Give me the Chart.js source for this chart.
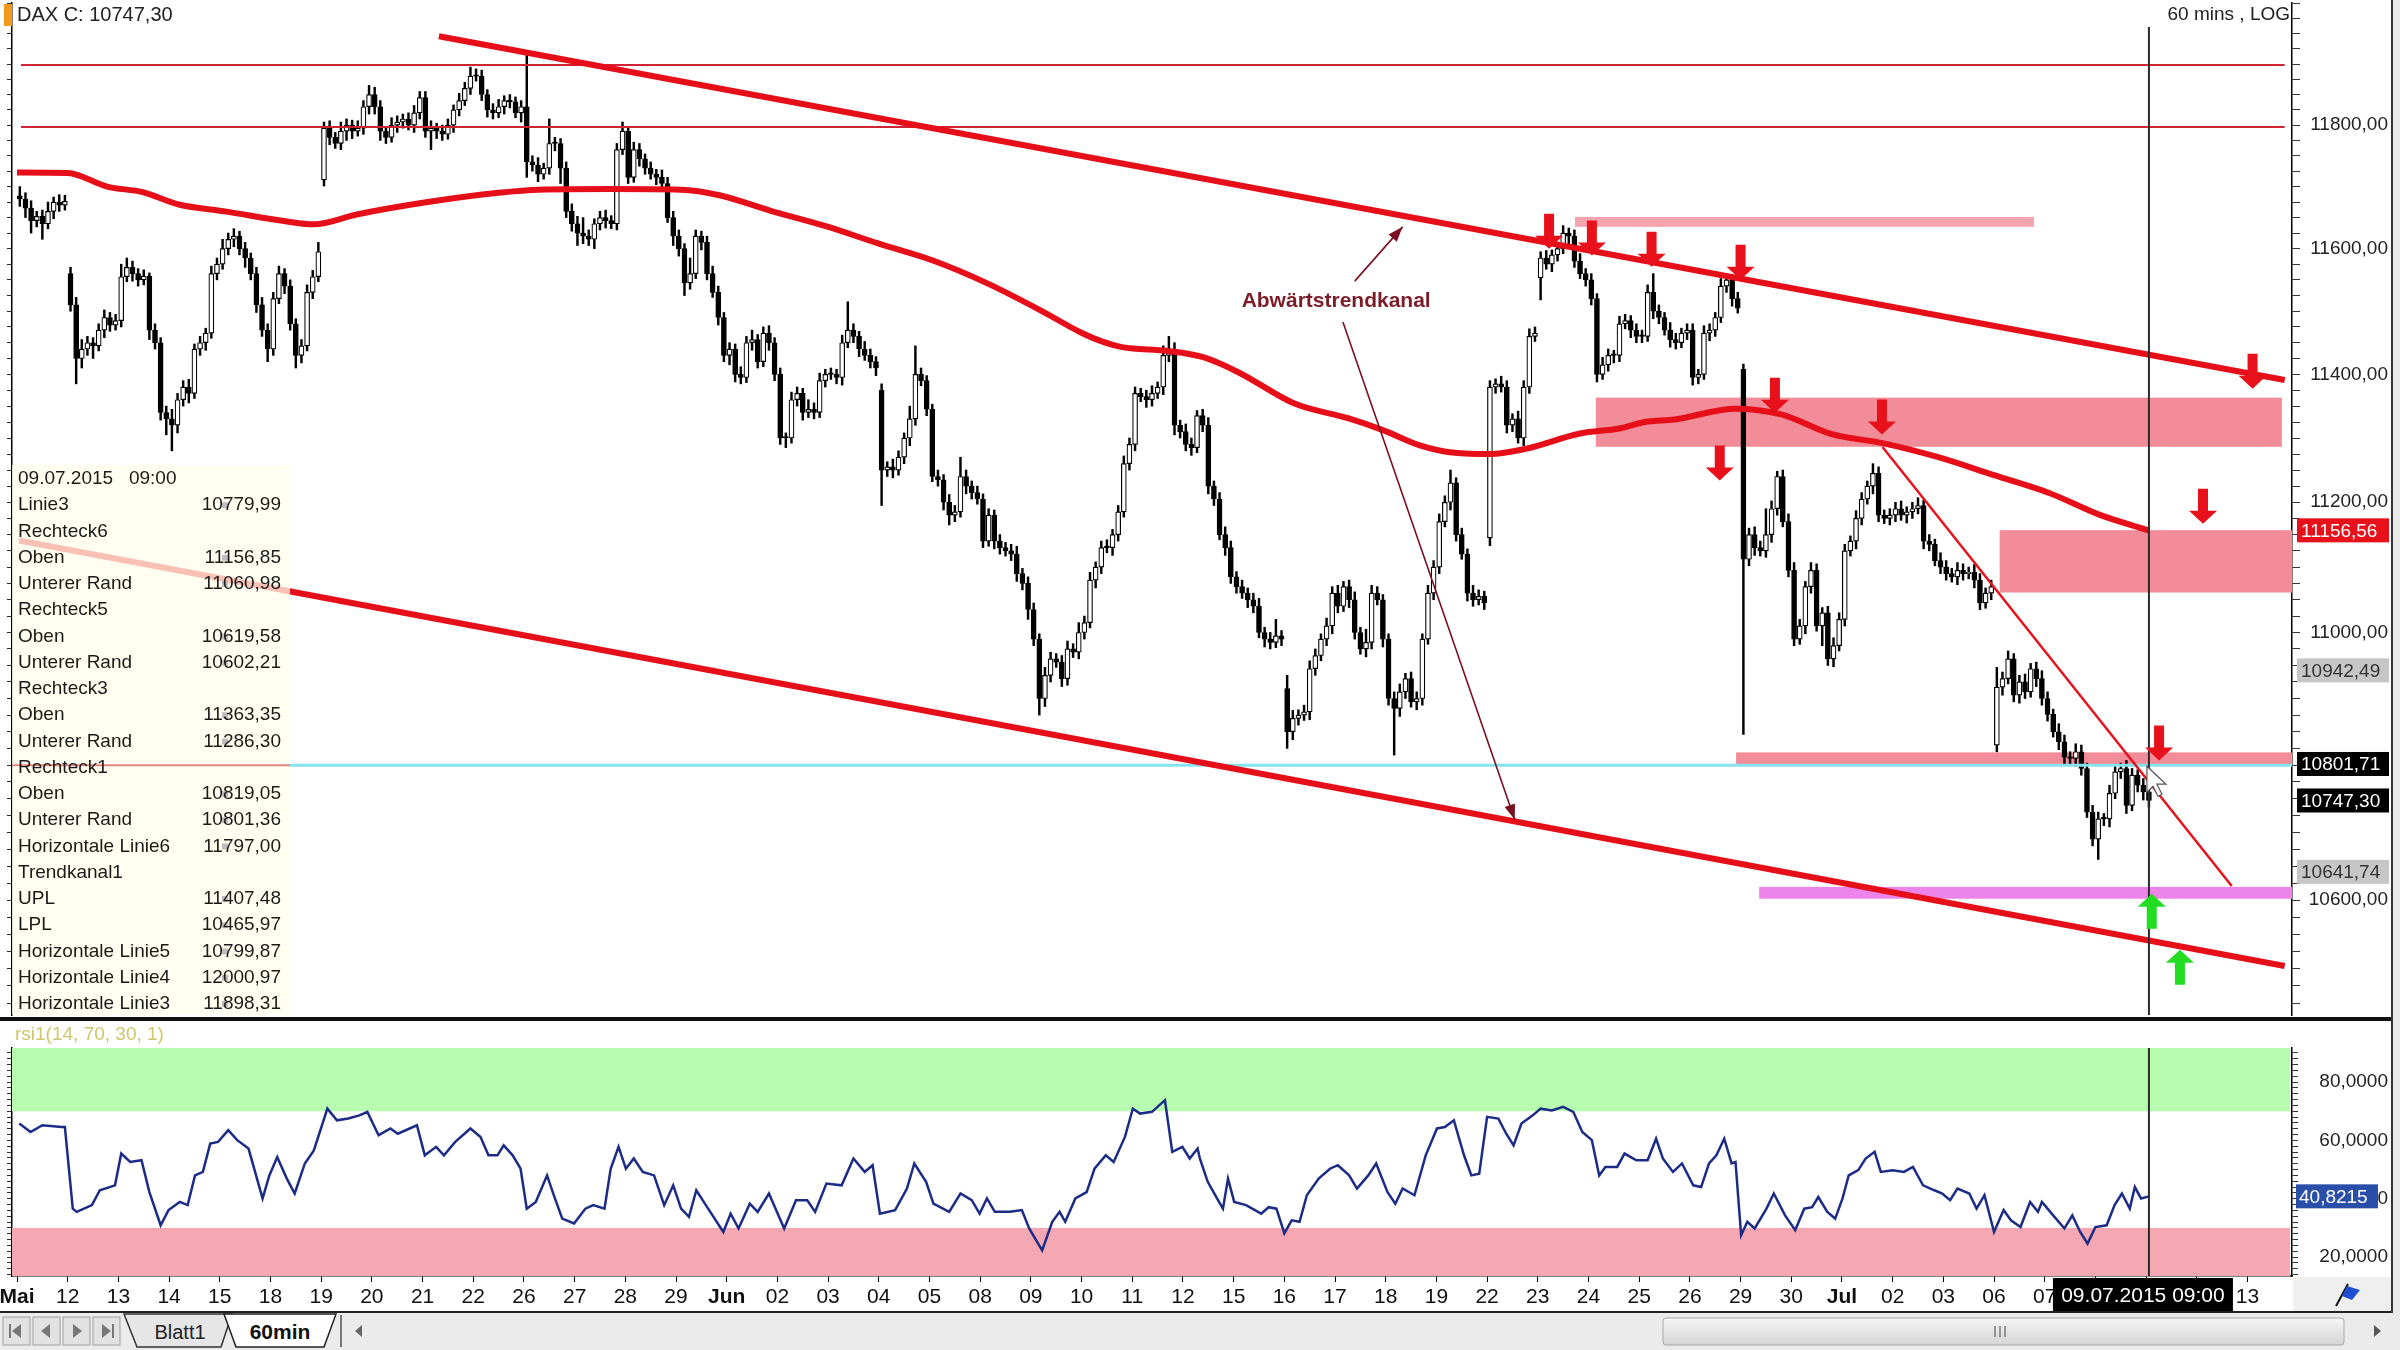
<!DOCTYPE html>
<html lang="de">
<head>
<meta charset="utf-8">
<title>DAX 60 mins</title>
<script src="https://cdn.jsdelivr.net/npm/chart.js@4.4.1/dist/chart.umd.min.js"></script>
<style>
  html, body { margin: 0; padding: 0; }
  body { width: 2400px; height: 1350px; background: #fff; position: relative; overflow: hidden; font-family: "Liberation Sans", Arial, sans-serif; }
  #priceChart { position: absolute; left: 0; top: 0; }
  #rsiChart { position: absolute; left: 0; top: 1021px; }
  .sep { position: absolute; left: 0; top: 1017px; width: 2392px; height: 4px; background: #111; }
  .axisBottom { position: absolute; left: 0; top: 1311px; width: 2392px; height: 2px; background: #222; }
  .rightEdge { position: absolute; left: 2391px; top: 0; width: 2px; height: 1313px; background: #333; }
  .rightPad { position: absolute; left: 2393px; top: 0; width: 7px; height: 1350px; background: #e8e8e8; }
  #tabbar { position: absolute; left: 0; top: 1313px; }
</style>
</head>
<body>
<canvas id="priceChart" width="2400" height="1017"></canvas>
<div class="sep"></div>
<canvas id="rsiChart" width="2400" height="292"></canvas>
<div class="axisBottom"></div>
<div class="rightEdge"></div>
<div class="rightPad"></div>
<svg id="tabbar" width="2400" height="37" xmlns="http://www.w3.org/2000/svg" font-family="Liberation Sans, Arial, sans-serif">
  <defs><linearGradient id="thumb" x1="0" y1="0" x2="0" y2="1"><stop offset="0" stop-color="#f6f6f6"/><stop offset="1" stop-color="#d4d4d4"/></linearGradient></defs>
  <rect width="2400" height="37" fill="#ebebeb"/>
  <g stroke="#a0a0a0" fill="#e2e2e2">
    <rect x="3" y="4" width="27" height="28"/><rect x="33" y="4" width="27" height="28"/>
    <rect x="63" y="4" width="27" height="28"/><rect x="93" y="4" width="27" height="28"/>
  </g>
  <g fill="#777">
    <rect x="9" y="11" width="2" height="14"/><polygon points="21,11 12,18 21,25"/>
    <polygon points="50,11 41,18 50,25"/>
    <polygon points="73,11 82,18 73,25"/>
    <polygon points="102,11 111,18 102,25"/><rect x="112" y="11" width="2" height="14"/>
  </g>
  <polygon points="124,1 137,34 221,34 232,1" fill="#e6e6e6" stroke="#333" stroke-width="1.5"/>
  <text x="180" y="26" font-size="20" text-anchor="middle" fill="#222">Blatt1</text>
  <polygon points="224,1 236,34 324,34 336,1" fill="#fff" stroke="#222" stroke-width="1.5"/>
  <text x="280" y="26" font-size="21" font-weight="bold" text-anchor="middle" fill="#111">60min</text>
  <line x1="341" y1="2" x2="341" y2="34" stroke="#777" stroke-width="2"/>
  <polygon points="362,12 355,18 362,24" fill="#666"/>
  <rect x="1663" y="5" width="681" height="27" rx="3" fill="url(#thumb)" stroke="#a8a8a8"/>
  <g stroke="#777" stroke-width="1.5"><line x1="1995" y1="13" x2="1995" y2="24"/><line x1="2000" y1="13" x2="2000" y2="24"/><line x1="2005" y1="13" x2="2005" y2="24"/></g>
  <polygon points="2374,12 2381,18 2374,24" fill="#555"/>
</svg>
<script>
// trading days on the time axis (one tick per day, 9 hourly bars per day)
const dayLabels = ['Mai','12','13','14','15','18','19','20','21','22','26','27','28','29',
  'Jun','02','03','04','05','08','09','10','11','12','15','16','17','18','19','22','23','24','25','26','29','30',
  'Jul','02','03','06','07','08','09','10','13'];
const monthLabels = ['Mai', 'Jun', 'Jul'];
const barsPerDay = 9;

// hourly closes, one row per trading day
const closes = [
  11680,11665,11645,11652,11640,11660,11675,11670,11676,
  11510,11425,11440,11450,11445,11470,11490,11478,11485,
  11555,11570,11560,11550,11556,11470,11450,11340,11330,
  11320,11360,11380,11370,11440,11450,11465,11560,11575,
  11600,11615,11620,11600,11585,11560,11510,11470,11440,
  11520,11560,11540,11480,11430,11445,11530,11555,11595,
  11795,11780,11770,11790,11800,11790,11795,11830,11850,
  11830,11790,11780,11800,11805,11810,11800,11820,11845,
  11790,11795,11790,11785,11800,11825,11840,11860,11880,
  11880,11850,11825,11820,11830,11840,11838,11820,11830,
  11740,11735,11720,11730,11770,11770,11730,11660,11640,
  11625,11620,11615,11640,11650,11645,11640,11760,11790,
  11715,11760,11745,11730,11720,11715,11705,11650,11620,
  11600,11545,11560,11620,11610,11560,11530,11490,11430,
  11440,11400,11395,11450,11455,11420,11465,11450,11400,
  11300,11300,11360,11370,11340,11345,11340,11390,11400,
  11400,11395,11450,11470,11460,11440,11430,11420,11410,
  11250,11255,11250,11270,11300,11330,11400,11390,11345,
  11240,11235,11200,11180,11185,11240,11225,11215,11205,
  11140,11180,11140,11130,11125,11120,11090,11075,11035,
  10990,10900,10935,10960,10955,10930,10975,10970,11000,
  11015,11080,11100,11130,11130,11150,11185,11260,11290,
  11370,11365,11360,11370,11380,11430,11440,11320,11310,
  11290,11285,11335,11320,11225,11205,11150,11130,11085,
  11070,11060,11050,11040,11000,10990,10985,10995,10990,
  10850,10870,10875,10880,10945,10965,10990,11010,11060,
  11040,11070,11050,11000,10975,10985,11060,11050,10990,
  10900,10885,10910,10930,10895,10900,10990,11060,11100,
  11170,11200,11230,11150,11120,11060,11050,11055,11045,
  11380,11385,11380,11320,11330,11300,11380,11460,11465,
  11585,11575,11590,11600,11625,11620,11580,11560,11550,
  11520,11400,11415,11430,11430,11480,11485,11470,11460,
  11460,11530,11500,11490,11470,11455,11450,11465,11470,
  11395,11400,11465,11470,11490,11540,11550,11520,11505,
  11112,11150,11130,11125,11150,11190,11240,11170,11095,
  10990,11010,11070,11095,11010,11030,10960,10980,11020,
  11125,11140,11175,11205,11225,11245,11180,11175,11180,
  11190,11180,11185,11190,11195,11140,11135,11110,11100,
  11090,11085,11095,11090,11092,11080,11045,11060,11070,
  10917,10930,10960,10905,10925,10910,10945,10930,10900,
  10876,10850,10835,10812,10810,10820,10795,10730,10690,
  10720,10720,10758,10790,10795,10740,10785,10770,10760,
  10747.30
];
// wick length above / below the body, points
const wickUp = [
  15,10,12,8,10,15,8,12,10,  10,12,15,10,8,10,12,8,10,  20,15,10,8,10,5,10,8,10,
  15,10,10,12,8,10,8,12,10,  15,10,12,8,10,8,10,12,10,  10,12,8,10,8,10,12,10,15,
  10,12,8,15,10,8,12,10,15,  12,10,8,12,10,8,10,12,10,  10,12,8,10,10,8,12,10,15,
  12,10,8,10,12,8,10,8,10,   90,10,12,8,40,10,8,10,12,  12,25,10,8,10,12,8,10,15,
  8,12,10,8,10,8,12,10,10,   10,8,25,10,8,10,12,10,8,   10,8,12,10,15,8,10,12,8,
  10,8,12,10,8,15,10,12,8,   10,8,12,45,10,8,12,10,8,   10,8,12,10,8,20,45,10,8,
  8,10,8,12,10,30,10,8,10,   8,10,8,10,8,10,12,8,10,    10,8,12,10,8,10,12,8,15,
  10,12,8,10,12,8,10,12,10,  10,8,10,12,8,15,20,10,8,   12,10,8,10,12,8,10,12,10,
  8,10,8,10,12,8,10,25,8,    20,12,8,10,12,10,8,12,10,  12,8,10,12,8,20,12,10,8,
  8,10,12,8,10,10,8,12,10,   12,10,20,8,10,8,12,10,8,   10,8,12,10,8,12,10,12,10,
  10,12,8,10,12,8,10,12,8,   10,8,12,10,8,12,10,8,10,   10,12,30,10,8,12,10,8,10,
  10,8,12,10,8,12,10,8,10,   8,10,12,10,40,12,8,10,12,  12,10,8,12,10,8,10,12,10,
  10,8,12,10,8,15,10,8,10,   10,12,8,10,12,8,10,8,12,   10,8,12,10,8,12,10,8,10,
  30,10,12,8,10,12,8,10,12,  10,8,12,10,8,12,10,8,10,   10,8,12,10,8,12,10,8,10,
  8
];
const wickDn = [
  12,15,20,10,25,8,12,10,8,  10,40,15,10,20,8,12,10,8,  10,8,12,10,8,15,10,12,25,
  40,12,10,15,8,10,12,8,10,  8,10,12,10,15,10,12,10,20, 10,8,12,10,20,12,8,10,8,
  10,12,8,10,15,12,8,10,12,  12,15,10,8,12,10,8,12,10,  10,30,12,10,8,12,10,8,10,
  8,10,12,10,8,12,10,8,15,   25,10,12,8,10,12,25,10,12, 20,12,10,15,10,12,8,10,8,
  10,8,12,10,8,12,10,8,15,   12,20,10,8,12,10,8,12,10,  15,12,10,8,12,10,8,12,10,
  10,15,8,10,12,8,10,8,10,   8,10,12,8,10,12,8,10,12,   55,10,12,8,10,12,10,8,10,
  8,10,12,15,10,8,12,10,8,   10,8,12,10,8,10,12,10,15,  10,25,12,10,8,12,10,8,10,
  10,8,12,10,8,12,10,8,10,   10,8,12,10,8,12,10,15,10,  10,12,8,10,12,10,8,12,10,
  10,8,12,10,8,12,10,8,10,   25,12,10,8,12,10,8,10,12,  10,8,12,10,8,12,10,8,12,
  10,70,12,10,8,12,10,8,10,  10,8,12,10,8,12,10,8,10,   12,10,8,12,10,8,12,10,8,
  35,8,12,10,8,12,10,8,10,   10,12,8,10,12,10,8,12,10,  10,8,12,10,8,12,10,8,10,
  12,10,8,12,10,8,10,12,8,   266,10,12,8,10,12,10,8,10, 10,8,12,10,8,30,10,12,8,
  10,8,12,10,8,12,10,8,10,   10,8,12,10,8,12,10,8,10,   10,8,12,10,8,12,10,8,10,
  10,12,8,10,12,10,8,12,10,  10,8,12,10,8,12,10,8,10,   30,10,12,8,10,12,8,10,12,
  10
];
// opening gaps: [bar index, open]
const gapOpens = [[9, 11560], [54, 11711], [153, 11375], [225, 10915], [261, 11145], [270, 11553], [306, 11408], [351, 10830]];
const firstOpen = 11685;

// moving average (bar index, value)
const maX = [-0.5,8.5,15.5,21.8,28.2,36.4,47.2,52.2,59.8,72.4,85.0,92.2,104.8,117.4,124.2,133.6,143.1,152.5,162.1,171.4,
  181.3,188.2,192.1,195.7,203.8,210.1,216.4,226.3,235.8,242.1,248.4,254.7,261.1,267.3,277.0,284.0,288.5,293.8,304.6,312.7,
  321.7,330.7,340.6,350.5,360.4,369.4,378.0];
const maVal = [11723,11722,11700,11691,11671,11660,11644,11639,11655,11675,11690,11695,11696,11695,11686,11660,11636,11608,11581,11546,
  11501,11467,11452,11443,11437,11427,11403,11354,11331,11312,11289,11277,11275,11283,11307,11315,11325,11329,11346,11337,
  11306,11292,11270,11242,11214,11180,11156.56];

// RSI(14) (bar index, value)
const rsiX = [-0.1,1.9,4.0,7.4,8.0,9.4,10.1,12.8,14.2,16.9,18.0,19.6,21.6,23.0,25.0,26.4,28.4,29.8,31.1,32.5,
  33.8,35.2,37.0,38.6,40.6,43.1,44.3,45.7,47.4,48.8,50.6,52.2,54.6,56.3,58.3,60.3,61.7,63.7,65.8,67.1,
  70.5,71.9,73.9,75.3,77.3,80.0,81.8,83.2,84.8,85.9,87.5,88.9,90.0,91.6,93.6,95.0,96.3,98.4,100.4,101.8,
  103.8,104.9,106.3,107.6,109.0,110.6,112.6,114.4,116.0,117.4,118.8,120.1,122.2,124.9,126.2,127.6,129.6,131.0,133.0,135.7,
  137.8,139.8,141.2,143.2,145.9,148.0,150.0,151.4,152.7,155.4,157.5,158.8,160.9,162.2,165.0,167.0,169.0,170.4,171.7,173.1,
  175.8,177.9,179.2,181.5,183.3,184.6,185.6,187.4,189.4,190.8,192.8,194.2,196.2,197.6,198.9,201.0,203.3,204.6,206.4,207.7,
  209.1,209.5,210.9,212.9,213.6,214.5,215.6,217.7,220.4,221.7,223.1,224.5,225.8,227.2,228.5,230.6,232.6,234.0,236.0,237.4,
  239.4,240.8,242.8,244.2,245.5,247.6,249.6,251.6,253.0,254.6,256.4,257.7,259.1,260.5,262.5,263.9,265.2,266.6,268.6,270.0,
  272.0,274.0,275.8,277.4,279.1,280.4,281.5,283.6,284.9,287.0,289.0,290.5,291.7,293.5,295.1,297.1,298.5,299.9,301.2,302.6,
  303.9,304.6,305.6,306.7,308.0,310.1,311.4,313.4,315.2,316.8,318.2,319.3,320.9,322.3,323.6,324.7,326.4,327.7,329.3,330.4,
  332.5,334.5,336.1,337.9,339.9,341.3,342.7,344.0,346.1,347.4,348.8,350.5,352.2,353.5,355.2,356.9,358.3,359.0,361.0,363.0,
  364.4,365.8,367.1,368.5,370.5,371.9,373.2,374.6,375.5,376.6,378.0];
const rsiVal = [65.8,62.9,65.2,64.6,64.6,36.6,35.5,37.8,42.9,44.6,55.5,52.6,53.2,42.3,30.9,36.1,38.9,37.8,48.0,49.2,
  58.9,59.5,63.5,60.1,57.2,40.1,48.0,54.3,46.9,41.8,52.1,56.6,70.9,66.9,67.5,68.6,69.8,61.8,64.1,62.3,
  65.2,54.9,57.8,54.9,59.5,64.1,61.2,54.9,54.9,58.3,54.9,50.3,36.6,38.9,48.0,40.1,33.2,31.5,36.6,37.8,
  36.6,50.3,57.8,50.3,53.8,49.2,48.0,37.8,44.6,36.6,33.8,42.9,36.6,28.6,34.9,29.8,38.3,35.5,41.8,29.8,
  39.5,39.5,35.5,45.2,44.6,53.8,49.2,51.5,34.9,36.1,43.5,52.1,45.8,38.3,35.5,41.8,39.5,34.9,40.1,35.5,
  35.5,36.1,29.8,22.3,32.1,35.5,32.1,40.1,42.3,50.3,54.9,52.6,61.2,70.9,69.2,69.8,73.8,56.1,57.8,53.8,
  57.2,53.8,45.8,38.9,36.6,46.9,38.9,37.8,34.9,37.1,36.6,28.1,32.6,32.1,41.2,46.9,50.3,51.5,48.0,43.5,
  48.0,52.1,42.3,38.3,43.5,41.2,54.9,64.1,64.6,66.9,54.9,48.0,48.6,68.1,67.5,62.3,58.3,65.8,68.6,70.9,
  70.3,71.5,69.8,62.9,60.1,48.0,50.9,50.9,55.5,53.2,53.2,60.6,53.8,49.2,52.1,44.6,44.0,52.1,54.9,60.6,
  52.1,52.6,27.5,32.1,29.8,36.6,41.8,34.3,29.2,36.6,37.1,40.6,35.5,33.2,40.1,48.0,49.8,53.8,56.1,49.2,
  49.8,49.2,50.9,44.6,42.9,41.8,39.5,43.5,41.8,36.6,41.2,28.6,36.1,32.6,30.3,38.9,35.5,38.9,34.3,29.8,
  34.3,28.6,24.6,30.3,30.9,37.8,41.8,36.6,44.0,40.1,40.82];
const rsiLevels = [30, 70];

// drawing objects (bar index, price)
const upperLineX = [74.4, 402.1], upperLineY = [11946, 11391];
const lowerLineX = [-0.14, 402.1], lowerLineY = [11141, 10504];
const line3X = [330.7, 392.7], line3Y = [11286, 10621];
const hLevels = [11898.31, 11797.00], hLineX = [0.2, 402.1];
const cyanLevel = 10799.87, cyanX = [47.6, 403.4];
// rectangles: [from bar, to bar, lower, upper]
const zones = [
  [276.1, 357.6, 11635, 11651],
  [279.8, 401.6, 11286.30, 11363.35],
  [351.5, 403.4, 11060.98, 11156.85],
  [304.7, 403.4, 10801.36, 10819.05],
  [308.8, 403.4, 10602.21, 10619.58]
];
const downArrows = [[271.5, 11628], [279.1, 11617], [289.7, 11599], [305.5, 11578], [311.6, 11367],
  [330.6, 11333], [301.8, 11261], [387.6, 11194], [396.4, 11405], [379.8, 10833]];
const upArrows = [[378.5, 10584], [383.5, 10502]];
const annoText = 'Abwärtstrendkanal', annoPos = [233.7, 11516];
const annoArrows = [[237.0, 11548, 245.5, 11635], [234.9, 11483, 265.4, 10719]];
const cursorBar = 378, lastClose = 10747.30, rsiLast = 40.8215;
const markValues = [11156.56, 10942.49, 10801.71, 10747.30, 10641.74];
const panelRows = [
  ['09.07.2015   09:00', ''], ['Linie3', '10779,99'], ['Rechteck6', ''], ['Oben', '11156,85'],
  ['Unterer Rand', '11060,98'], ['Rechteck5', ''], ['Oben', '10619,58'], ['Unterer Rand', '10602,21'],
  ['Rechteck3', ''], ['Oben', '11363,35'], ['Unterer Rand', '11286,30'], ['Rechteck1', ''],
  ['Oben', '10819,05'], ['Unterer Rand', '10801,36'], ['Horizontale Linie6', '11797,00'], ['Trendkanal1', ''],
  ['UPL', '11407,48'], ['LPL', '10465,97'], ['Horizontale Linie5', '10799,87'], ['Horizontale Linie4', '12000,97'],
  ['Horizontale Linie3', '11898,31']
];

const zoneColors = ['#f6a4ad', '#f28c98', '#f28c98', '#f28c98', '#ec84ea'];
const markFill = ['#e8101a', '#c6c6c6', '#000', '#000', '#c6c6c6'];
const markInk = ['#fff', '#333', '#fff', '#fff', '#333'];
const RED = '#e60f19';
const xMin = -1.39, xMax = 403.4;

Chart.defaults.font.family = '"Liberation Sans", Arial, sans-serif';
const fmt = (v, d) => v.toFixed(d).replace('.', ',');

const candles = closes.map((c, k) => {
  const gap = gapOpens.find(g => g[0] === k);
  const o = gap ? gap[1] : (k === 0 ? firstOpen : closes[k - 1]);
  return { k, o, c, h: Math.max(o, c) + wickUp[k], l: Math.min(o, c) - wickDn[k] };
});
const pts = (xs, ys) => xs.map((x, i) => ({ x, y: ys[i] }));

function priceTicks(s) {
  const t = [];
  for (let v = 10450; v <= 12000; v += 25) t.push({ value: v });
  s.ticks = t;
}
// fixed axis widths, no label overflow padding
const fitV = w => s => { s.width = w; s.paddingTop = 0; s.paddingBottom = 0; };

function drawArrow(ctx, cx, cy, dir, color) {
  const H = 35, head = 13, hw = 14, sw = 5;
  const t = cy - dir * H / 2, b = cy + dir * H / 2, m = b - dir * head;
  ctx.fillStyle = color;
  ctx.beginPath();
  ctx.moveTo(cx - sw, t); ctx.lineTo(cx + sw, t); ctx.lineTo(cx + sw, m); ctx.lineTo(cx + hw, m);
  ctx.lineTo(cx, b); ctx.lineTo(cx - hw, m); ctx.lineTo(cx - sw, m);
  ctx.closePath(); ctx.fill();
}

function lineArrow(ctx, x1, y1, x2, y2) {
  ctx.beginPath(); ctx.moveTo(x1, y1); ctx.lineTo(x2, y2); ctx.stroke();
  const ang = Math.atan2(y2 - y1, x2 - x1), L = 16, W = 0.35;
  ctx.beginPath();
  ctx.moveTo(x2, y2);
  ctx.lineTo(x2 - L * Math.cos(ang - W), y2 - L * Math.sin(ang - W));
  ctx.lineTo(x2 - L * Math.cos(ang + W), y2 - L * Math.sin(ang + W));
  ctx.closePath(); ctx.fill();
}

const priceDecor = {
  id: 'priceDecor',
  beforeDatasetsDraw(chart) {
    const { ctx, chartArea: a, scales: { x, y } } = chart;
    ctx.save();
    ctx.beginPath(); ctx.rect(a.left, a.top, a.width, a.height); ctx.clip();
    zones.forEach((z, i) => {
      const x1 = x.getPixelForValue(z[0]), x2 = x.getPixelForValue(z[1]);
      const y1 = y.getPixelForValue(z[3]), y2 = y.getPixelForValue(z[2]);
      ctx.fillStyle = zoneColors[i];
      ctx.fillRect(x1, y1, x2 - x1, Math.max(y2 - y1, 4));
    });
    ctx.restore();
  },
  afterDatasetsDraw(chart) {
    const { ctx, chartArea: a, scales: { x, y } } = chart;
    ctx.save();
    // crosshair
    const cx = x.getPixelForValue(cursorBar);
    ctx.strokeStyle = '#2a2a2a'; ctx.lineWidth = 2;
    ctx.beginPath(); ctx.moveTo(cx, a.top + 24); ctx.lineTo(cx, a.bottom); ctx.stroke();

    downArrows.forEach(p => drawArrow(ctx, x.getPixelForValue(p[0]), y.getPixelForValue(p[1]), 1, '#e8101a'));
    upArrows.forEach(p => drawArrow(ctx, x.getPixelForValue(p[0]), y.getPixelForValue(p[1]), -1, '#22dd22'));

    // annotation
    ctx.strokeStyle = '#7a1020'; ctx.fillStyle = '#7a1020'; ctx.lineWidth = 1.6;
    annoArrows.forEach(r => lineArrow(ctx, x.getPixelForValue(r[0]), y.getPixelForValue(r[1]),
      x.getPixelForValue(r[2]), y.getPixelForValue(r[3])));
    ctx.font = 'bold 21px "Liberation Sans", Arial, sans-serif';
    ctx.fillStyle = '#7b1c28'; ctx.textAlign = 'center'; ctx.textBaseline = 'middle';
    ctx.fillText(annoText, x.getPixelForValue(annoPos[0]), y.getPixelForValue(annoPos[1]));

    // mouse pointer
    const tx = cx - 2, ty = y.getPixelForValue(cyanLevel) + 1;
    const cur = [[0, 0], [0, 26], [6, 20], [11, 30], [15, 28], [10, 18], [19, 18]];
    ctx.beginPath();
    cur.forEach(([px, py], i) => i ? ctx.lineTo(tx + px, ty + py) : ctx.moveTo(tx + px, ty + py));
    ctx.closePath(); ctx.fillStyle = '#fff'; ctx.fill();
    ctx.strokeStyle = '#555'; ctx.lineWidth = 1.2; ctx.stroke();

    // info panel
    const pTop = 465, pW = 278;
    ctx.fillStyle = 'rgba(255,255,236,0.74)';
    ctx.fillRect(a.left, pTop, pW, a.bottom - pTop);
    ctx.strokeStyle = 'rgba(228,120,120,0.9)'; ctx.lineWidth = 2;
    const ly = y.getPixelForValue(cyanLevel);
    ctx.beginPath(); ctx.moveTo(a.left, ly); ctx.lineTo(a.left + pW, ly); ctx.stroke();
    ctx.font = '19px "Liberation Sans", Arial, sans-serif';
    ctx.textBaseline = 'middle';
    panelRows.forEach((r, i) => {
      const ry = pTop + 14 + i * 26.25;
      ctx.fillStyle = '#1a1a1a'; ctx.textAlign = 'left';
      ctx.fillText(r[0], 18, ry);
      if (r[1]) {
        ctx.fillStyle = '#bdbdbd'; ctx.fillRect(222, ry - 3, 6, 6);
        ctx.fillStyle = '#1a1a1a'; ctx.textAlign = 'right';
        ctx.fillText(r[1], 281, ry);
      }
    });

    // header
    ctx.fillStyle = '#f39a1e'; ctx.fillRect(4, 4, 8, 22);
    ctx.font = '20px "Liberation Sans", Arial, sans-serif';
    ctx.fillStyle = '#222'; ctx.textAlign = 'left';
    ctx.fillText('DAX C: ' + fmt(lastClose, 2), 17, 15);
    ctx.font = '19px "Liberation Sans", Arial, sans-serif';
    ctx.textAlign = 'right';
    ctx.fillText('60 mins , LOG', a.right - 2, 15);
    ctx.restore();
  },
  afterDraw(chart) {
    const { ctx, chartArea: a, scales: { y } } = chart;
    ctx.save();
    ctx.font = '19px "Liberation Sans", Arial, sans-serif';
    ctx.textBaseline = 'middle'; ctx.textAlign = 'left';
    markValues.forEach((v, i) => {
      const py = y.getPixelForValue(v);
      ctx.fillStyle = markFill[i];
      ctx.fillRect(a.right + 5, py - 12, 92, 24);
      ctx.fillStyle = markInk[i];
      ctx.fillText(fmt(v, 2), a.right + 9, py + 1);
    });
    ctx.restore();
  }
};

new Chart(document.getElementById('priceChart'), {
  type: 'bar',
  data: {
    datasets: [
      { type: 'line', label: 'Linie3', data: pts(line3X, line3Y), borderColor: '#e3141d', borderWidth: 2.5, pointRadius: 0, order: 1 },
      { type: 'line', label: 'UPL', data: pts(upperLineX, upperLineY), borderColor: RED, borderWidth: 6, pointRadius: 0, order: 1 },
      { type: 'line', label: 'LPL', data: pts(lowerLineX, lowerLineY), borderColor: RED, borderWidth: 6, pointRadius: 0, order: 1 },
      { type: 'line', label: 'GD', data: pts(maX, maVal), borderColor: RED, borderWidth: 6, pointRadius: 0,
        cubicInterpolationMode: 'monotone', order: 2 },
      { type: 'line', label: 'Horizontale Linie3', data: hLineX.map(x => ({ x, y: hLevels[0] })), borderColor: '#d02434', borderWidth: 2, pointRadius: 0, order: 2 },
      { type: 'line', label: 'Horizontale Linie6', data: hLineX.map(x => ({ x, y: hLevels[1] })), borderColor: '#d02434', borderWidth: 2, pointRadius: 0, order: 2 },
      { type: 'line', label: 'Horizontale Linie5', data: cyanX.map(x => ({ x, y: cyanLevel })), borderColor: '#86e4ec', borderWidth: 3, pointRadius: 0, order: 3 },
      { type: 'bar', label: 'body', data: candles.map(d => ({ x: d.k, y: [d.o, d.c] })),
        backgroundColor: c => { const d = candles[c.dataIndex]; return d && d.c > d.o ? '#fff' : '#000'; },
        borderColor: '#000', borderWidth: 1.2, borderSkipped: false, barThickness: 5, minBarLength: 1.5, grouped: false, order: 5 },
      { type: 'bar', label: 'wick', data: candles.map(d => ({ x: d.k, y: [d.l, d.h] })),
        backgroundColor: '#000', barThickness: 1.8, grouped: false, order: 6 }
    ]
  },
  options: {
    responsive: false, animation: false, devicePixelRatio: 1,
    layout: { autoPadding: false, padding: { left: 2, right: 12, top: 3, bottom: 2 } },
    plugins: { legend: { display: false }, tooltip: { enabled: false } },
    scales: {
      x: { type: 'linear', min: xMin, max: xMax, offset: false, display: false },
      y: {
        type: 'logarithmic', position: 'right', min: 10433, max: 12001, bounds: 'data',
        afterFit: fitV(96),
        afterBuildTicks: priceTicks,
        ticks: { autoSkip: false, crossAlign: 'far', color: '#222', font: { size: 19 },
          callback: v => (v % 200 === 0 && v < 12000) ? fmt(v, 2) : '' },
        grid: { drawOnChartArea: false, tickLength: 8, color: '#333' },
        border: { color: '#000', width: 1.5 }
      },
      yl: {
        type: 'logarithmic', position: 'left', min: 10433, max: 12001, bounds: 'data',
        afterFit: fitV(10),
        afterBuildTicks: priceTicks,
        ticks: { display: false },
        grid: { drawOnChartArea: false, tickLength: 5, color: '#333' },
        border: { color: '#000', width: 1.5 }
      }
    }
  },
  plugins: [priceDecor]
});

const rsiDecor = {
  id: 'rsiDecor',
  beforeDatasetsDraw(chart) {
    const { ctx, chartArea: a, scales: { y } } = chart;
    ctx.save();
    const y70 = y.getPixelForValue(rsiLevels[1]), y30 = y.getPixelForValue(rsiLevels[0]);
    ctx.fillStyle = '#b8fcb0'; ctx.fillRect(a.left, a.top, a.width - 2, y70 - a.top);
    ctx.fillStyle = '#f5a8b2'; ctx.fillRect(a.left, y30, a.width - 2, a.bottom - y30);
    ctx.restore();
  },
  afterDatasetsDraw(chart) {
    const { ctx, chartArea: a, scales: { x } } = chart;
    const cx = x.getPixelForValue(cursorBar);
    ctx.save();
    ctx.strokeStyle = '#2a2a2a'; ctx.lineWidth = 2;
    ctx.beginPath(); ctx.moveTo(cx, a.top); ctx.lineTo(cx, a.bottom); ctx.stroke();
    ctx.restore();
  },
  afterDraw(chart) {
    const { ctx, chartArea: a, scales: { x, y } } = chart;
    ctx.save();
    ctx.textBaseline = 'middle';
    ctx.font = '19px "Liberation Sans", Arial, sans-serif';
    ctx.fillStyle = '#cfc66a'; ctx.textAlign = 'left';
    ctx.fillText('rsi1(14, 70, 30, 1)', 15, 14);
    // last value box
    const py = y.getPixelForValue(rsiLast);
    ctx.fillStyle = '#2a4fa8'; ctx.fillRect(a.right + 4, py - 12, 82, 24);
    ctx.fillStyle = '#fff'; ctx.fillText(fmt(rsiLast, 4), a.right + 7, py + 1);
    // crosshair date on the time axis
    const cx = x.getPixelForValue(cursorBar);
    ctx.fillStyle = '#000'; ctx.fillRect(cx - 96, a.bottom + 2, 180, 33);
    ctx.fillStyle = '#fff'; ctx.textAlign = 'center';
    ctx.font = '21px "Liberation Sans", Arial, sans-serif';
    ctx.fillText('09.07.2015 09:00', cx - 6, a.bottom + 20);
    // corner box with flag
    ctx.fillStyle = '#efefef'; ctx.fillRect(a.right + 1, a.bottom + 1, 99, 34);
    ctx.strokeStyle = '#111'; ctx.lineWidth = 2;
    ctx.beginPath(); ctx.moveTo(a.right + 44, a.bottom + 30); ctx.lineTo(a.right + 56, a.bottom + 8); ctx.stroke();
    ctx.fillStyle = '#1f4fd0';
    ctx.beginPath(); ctx.moveTo(a.right + 55, a.bottom + 10); ctx.lineTo(a.right + 68, a.bottom + 14);
    ctx.lineTo(a.right + 60, a.bottom + 24); ctx.lineTo(a.right + 50, a.bottom + 20); ctx.closePath(); ctx.fill();
    ctx.restore();
  }
};

new Chart(document.getElementById('rsiChart'), {
  type: 'line',
  data: {
    datasets: [{ label: 'rsi1', data: pts(rsiX, rsiVal), borderColor: '#1c2c86', borderWidth: 2.5, pointRadius: 0, tension: 0 }]
  },
  options: {
    responsive: false, animation: false, devicePixelRatio: 1,
    layout: { autoPadding: false, padding: { left: 2, right: 12, top: 27, bottom: 0 } },
    plugins: { legend: { display: false }, tooltip: { enabled: false } },
    scales: {
      x: {
        type: 'linear', min: xMin, max: xMax, offset: false,
        afterFit: s => { s.height = 37; s.paddingLeft = 0; s.paddingRight = 0; },
        afterBuildTicks: s => { s.ticks = dayLabels.map((_, i) => ({ value: i * barsPerDay - 0.5 })); },
        ticks: { autoSkip: false, maxRotation: 0, minRotation: 0, padding: 3, color: '#111',
          font: c => ({ size: 21, weight: monthLabels.includes(dayLabels[c.index]) ? 'bold' : 'normal' }),
          callback: (v, i) => dayLabels[i] },
        grid: { drawOnChartArea: false, tickLength: 6, color: '#000' },
        border: { color: '#000', width: 1.5 }
      },
      y: {
        position: 'right', min: 13.5, max: 91.7,
        afterFit: fitV(96),
        afterBuildTicks: s => { const t = []; for (let v = 14; v <= 90; v += 2) t.push({ value: v }); s.ticks = t; },
        ticks: { autoSkip: false, crossAlign: 'far', color: '#222', font: { size: 19 },
          callback: v => v % 20 === 0 ? fmt(v, 4) : '' },
        grid: { drawOnChartArea: false, tickLength: 6, color: '#333' },
        border: { color: '#000', width: 1.5 }
      },
      yl: {
        position: 'left', min: 13.5, max: 91.7,
        afterFit: fitV(10),
        afterBuildTicks: s => { const t = []; for (let v = 14; v <= 90; v += 2) t.push({ value: v }); s.ticks = t; },
        ticks: { display: false },
        grid: { drawOnChartArea: false, tickLength: 5, color: '#333' },
        border: { color: '#000', width: 1.5 }
      }
    }
  },
  plugins: [rsiDecor]
});
</script>
</body>
</html>
